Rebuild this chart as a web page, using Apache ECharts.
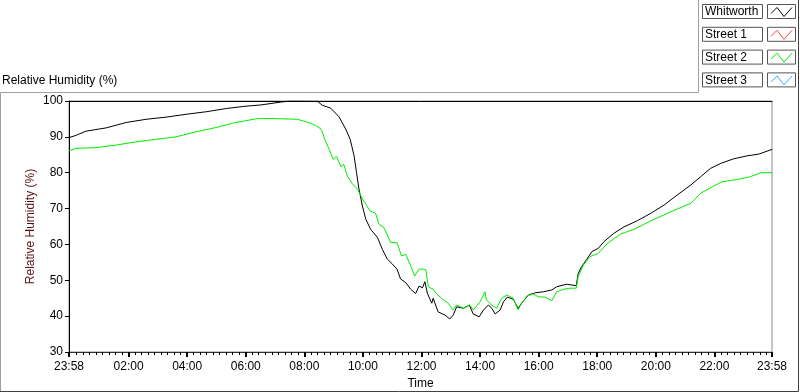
<!DOCTYPE html>
<html>
<head>
<meta charset="utf-8">
<script src="https://cdn.jsdelivr.net/npm/echarts@6/dist/echarts.min.js"></script>
<style>
  html, body { margin: 0; padding: 0; background: #fff; }
  #chart { width: 800px; height: 392px; }
</style>
</head>
<body>
<div id="chart"></div>
<script>
// time is in minutes after 23:58 of the previous day (0 .. 1440)
var seriesNames = ['Whitworth', 'Street 1', 'Street 2', 'Street 3'];
var seriesColors = ['#000000', '#ff4040', '#00ee00', '#33b5ff'];

var whitworthTime = [0, 14, 35, 76, 117, 158, 199, 240, 281, 322, 358, 393, 434, 453, 509, 519, 536, 553, 567, 576,
  584, 589, 594, 601, 608, 618, 632, 642, 652, 662, 672, 679, 690, 700, 710, 717, 724, 729, 734, 743,
  746, 756, 770, 780, 787, 794, 808, 820, 828, 840, 849, 859, 866, 873, 883, 890, 898, 910, 920, 927,
  941, 955, 972, 989, 999, 1019, 1039, 1043, 1050, 1060, 1071, 1084, 1096, 1116, 1137, 1164, 1192, 1219, 1246, 1274,
  1294, 1314, 1335, 1362, 1389, 1413, 1440];
var whitworthRh = [89.8, 90.4, 91.6, 92.5, 94.0, 94.9, 95.5, 96.3, 97.0, 97.9, 98.5, 98.9, 99.7, 100, 99.9, 98.8, 98.0, 95.6, 92.1, 89.3,
  84.7, 80.0, 75.4, 70.7, 67.0, 64.2, 61.9, 58.6, 55.9, 54.6, 53.1, 50.4, 49.3, 47.5, 46.3, 48.4, 47.9, 49.6, 46.4, 43.6,
  45.0, 41.2, 40.3, 39.2, 40.3, 42.6, 42.2, 43.1, 40.6, 39.8, 41.7, 43.1, 42.2, 40.6, 41.7, 44.0, 45.3, 44.7, 42.2, 43.6,
  45.9, 46.5, 46.8, 47.3, 48.2, 48.9, 48.5, 51.9, 53.8, 55.7, 58.0, 58.9, 60.8, 63.1, 64.9, 66.6, 68.7, 71.0, 73.8, 76.6,
  78.9, 81.2, 82.6, 83.9, 84.7, 85.2, 86.5];

var street1Time = [];
var street1Rh = [];

var street2Time = [0, 14, 55, 96, 137, 178, 219, 260, 301, 335, 358, 386, 420, 468, 488, 505, 517, 524, 533, 541,
  548, 557, 563, 570, 580, 591, 598, 608, 617, 628, 635, 645, 659, 672, 681, 690, 700, 708, 717, 726,
  731, 736, 746, 753, 767, 777, 786, 794, 808, 821, 828, 842, 852, 855, 866, 876, 886, 897, 910, 920,
  927, 938, 951, 961, 975, 989, 999, 1013, 1026, 1039, 1043, 1054, 1067, 1084, 1103, 1130, 1157, 1192, 1233, 1274,
  1294, 1321, 1338, 1369, 1396, 1417, 1440];
var street2Rh = [86.1, 86.8, 87.0, 87.7, 88.6, 89.3, 90.0, 91.4, 92.6, 93.8, 94.4, 95.1, 95.1, 94.9, 94.1, 93.2, 92.1, 89.3, 86.5, 83.7,
  84.5, 81.7, 82.3, 79.1, 77.0, 75.4, 73.5, 71.2, 69.3, 68.7, 65.6, 64.7, 60.5, 60.5, 56.8, 57.2, 54.0, 51.2, 53.1, 53.1,
  52.9, 48.2, 47.5, 46.2, 44.5, 43.6, 41.7, 43.1, 42.2, 43.1, 41.7, 44.0, 46.8, 44.5, 43.1, 42.2, 45.0, 45.9, 45.0, 41.7,
  43.6, 45.6, 46.2, 45.4, 45.3, 44.3, 46.8, 47.5, 47.8, 47.8, 51.0, 54.3, 56.6, 57.5, 60.3, 62.9, 64.2, 66.6, 69.1, 71.5,
  74.3, 76.3, 77.5, 78.1, 78.9, 80.0, 80.0];

var street3Time = [];
var street3Rh = [];

// x tick labels: 23:58, 02:00, 04:00 ... 22:00, 23:58
var xTickValues = [0, 122, 242, 362, 482, 602, 722, 842, 962, 1082, 1202, 1322, 1440];

function zip(t, v) {
  var out = [];
  for (var i = 0; i < t.length; i++) out.push([t[i], v[i]]);
  return out;
}

function clock(v) {
  var m = ((Math.round(v) - 2) % 1440 + 1440) % 1440;
  var h = Math.floor(m / 60), mm = m % 60;
  return (h < 10 ? '0' : '') + h + ':' + (mm < 10 ? '0' : '') + mm;
}

// minor ticks: 9 steps per 2 hours, counted from 02:00
var minorTicks = [];
for (var k = -8; k <= 107; k++) {
  var mv = 122 + k * 120 / 9;
  if (mv > 3 && mv < 1437 && (k % 9 !== 0)) minorTicks.push(mv);
}

var font = 'Liberation Sans, Arial, sans-serif';

var allData = [
  zip(whitworthTime, whitworthRh),
  zip(street1Time, street1Rh),
  zip(street2Time, street2Rh),
  zip(street3Time, street3Rh)
];

var series = seriesNames.map(function(name, i) {
  return {
    name: name,
    type: 'line',
    data: allData[i],
    showSymbol: false,
    color: seriesColors[i],
    lineStyle: { width: 1, color: seriesColors[i] }
  };
});

// legend boxes (right top corner)
var legendGraphics = [];
seriesNames.forEach(function(name, i) {
  var y0 = 4.5 + i * 22.8;
  legendGraphics.push({
    type: 'rect', shape: { x: 702.5, y: y0, width: 60, height: 14 },
    style: { fill: '#fff', stroke: '#555', lineWidth: 1 }
  });
  legendGraphics.push({
    type: 'text', x: 705, y: y0 + 7.5,
    style: { text: name, font: '12px ' + font, fill: '#000', verticalAlign: 'middle' }
  });
  legendGraphics.push({
    type: 'rect', shape: { x: 767.5, y: y0, width: 28, height: 14 },
    style: { fill: '#fff', stroke: '#555', lineWidth: 1 }
  });
  legendGraphics.push({
    type: 'polyline',
    shape: { points: [[771, y0 + 9], [777, y0 + 3], [784, y0 + 12], [792, y0 + 3]] },
    style: { stroke: seriesColors[i], lineWidth: 1, fill: null }
  });
});

var chart = echarts.init(document.getElementById('chart'), null, { renderer: 'canvas' });
chart.setOption({
  animation: false,
  backgroundColor: '#fff',
  textStyle: { fontFamily: font },
  title: {
    text: 'Relative Humidity (%)',
    left: 2, top: 75, padding: 0,
    textStyle: { fontSize: 12, fontWeight: 'normal', color: '#000', fontFamily: font }
  },
  tooltip: { show: false },
  grid: {
    left: 69, top: 101, width: 703, height: 251,
    outerBoundsMode: 'none', containLabel: false,
    show: true, borderColor: '#8c8c8c', borderWidth: 1, backgroundColor: '#fff'
  },
  xAxis: [{
    type: 'value', min: 0, max: 1440,
    name: 'Time', nameLocation: 'middle', nameGap: 26, nameMoveOverlap: false,
    nameTextStyle: { fontSize: 12, color: '#000' },
    axisLine: { show: true, lineStyle: { color: '#333', width: 1 } },
    axisTick: { show: true, customValues: xTickValues, length: 5, lineStyle: { color: '#000', width: 2 } },
    axisLabel: { customValues: xTickValues, formatter: clock, fontSize: 12, color: '#000', margin: 9 },
    splitLine: { show: false }
  }, {
    type: 'value', min: 0, max: 1440, position: 'bottom', offset: 0,
    axisLine: { show: false },
    axisTick: { show: true, customValues: minorTicks, length: 3, lineStyle: { color: '#000', width: 1 } },
    axisLabel: { show: false },
    splitLine: { show: false }
  }, {
    type: 'value', min: 0, max: 1440, position: 'top', offset: 0,
    axisLine: { show: true, lineStyle: { color: '#000', width: 1 } },
    axisTick: { show: false },
    axisLabel: { show: false },
    splitLine: { show: false }
  }],
  yAxis: {
    type: 'value', min: 30, max: 100, interval: 10,
    name: 'Relative Humidity (%)', nameLocation: 'middle', nameGap: 32, nameMoveOverlap: false,
    nameTextStyle: { fontSize: 12, color: '#5a1010' },
    axisLine: { show: true, lineStyle: { color: '#000', width: 1 } },
    axisTick: { show: true, length: 4, lineStyle: { color: '#000' } },
    axisLabel: { fontSize: 12, color: '#000', margin: 6 },
    splitLine: { show: false }
  },
  graphic: [{
    type: 'group',
    silent: true,
    children: [
      { type: 'polyline', shape: { points: [[0.5, 391], [0.5, 92.5], [698.5, 92.5], [698.5, 0]] },
        style: { stroke: '#a0a0a0', lineWidth: 1, fill: null } },
      { type: 'polyline', shape: { points: [[0, 391.5], [798.5, 391.5], [798.5, 0]] },
        style: { stroke: '#404040', lineWidth: 1, fill: null } }
    ].concat(legendGraphics)
  }],
  series: series
});
</script>
</body>
</html>
